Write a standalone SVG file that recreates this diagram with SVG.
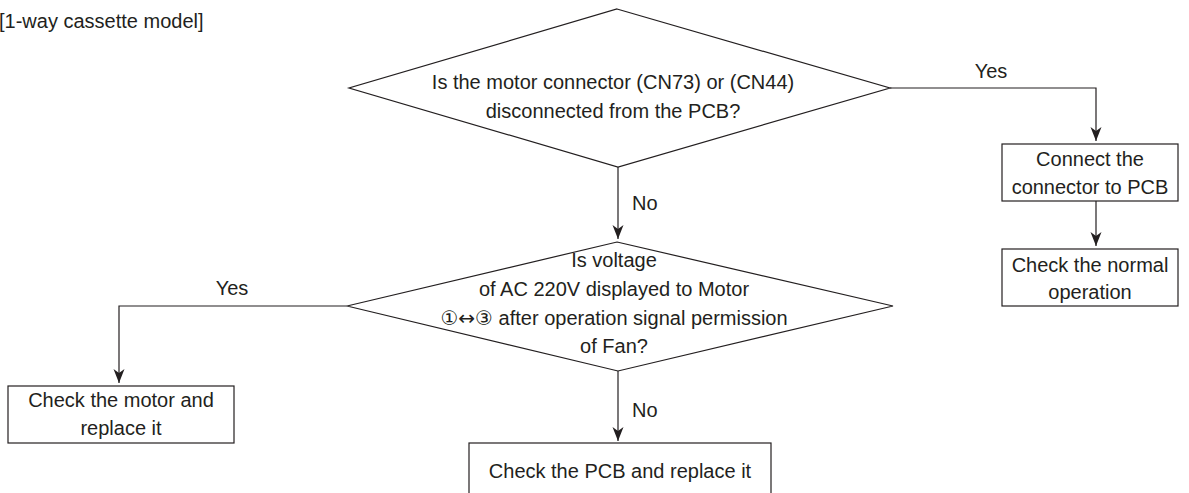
<svg xmlns="http://www.w3.org/2000/svg" width="1189" height="493" viewBox="0 0 1189 493">
<style>
  .t { font-family: "Liberation Sans", "DejaVu Sans", sans-serif; font-size: 20px; fill: #231f20; }
  .m { text-anchor: middle; }
  .sym { font-family: "DejaVu Sans", sans-serif; }
  .shape { fill: #ffffff; stroke: #231f20; stroke-width: 1.2; }
  .conn { fill: none; stroke: #231f20; stroke-width: 1.2; }
</style>
<defs>
  <marker id="arr" markerUnits="userSpaceOnUse" markerWidth="15" markerHeight="12" refX="14" refY="5.5" orient="auto">
    <path d="M0,0 L14,5.5 L0,11 L4,5.5 Z" fill="#231f20"/>
  </marker>
</defs>
<rect width="1189" height="493" fill="#ffffff"/>
<text class="t" x="-1" y="28">[1-way cassette model]</text>

<g id="connectors">
  <path class="conn" d="M890,88 H1096 V141" marker-end="url(#arr)"/>
  <path class="conn" d="M1096,201 V246" marker-end="url(#arr)"/>
  <path class="conn" d="M618,167 V239" marker-end="url(#arr)"/>
  <path class="conn" d="M347,306 H119 V383" marker-end="url(#arr)"/>
  <path class="conn" d="M618,371 V441" marker-end="url(#arr)"/>
  <text class="t m" x="991" y="78">Yes</text>
  <text class="t" x="632" y="210">No</text>
  <text class="t m" x="232" y="295">Yes</text>
  <text class="t" x="632" y="417">No</text>
</g>

<g id="q1">
  <polygon class="shape" points="617,9 890,88 618,167 349,88"/>
  <text class="t m" x="613" y="89">Is the motor connector (CN73) or (CN44)</text>
  <text class="t m" x="613" y="118">disconnected from the PCB?</text>
</g>

<g id="connect">
  <rect class="shape" x="1002" y="144" width="176" height="57"/>
  <text class="t m" x="1090" y="166">Connect the</text>
  <text class="t m" x="1090" y="194">connector to PCB</text>
</g>

<g id="normal">
  <rect class="shape" x="1002" y="249" width="176" height="57"/>
  <text class="t m" x="1090" y="272">Check the normal</text>
  <text class="t m" x="1090" y="299">operation</text>
</g>

<g id="q2">
  <polygon class="shape" points="617,242 893,306 618,371 347,306"/>
  <text class="t m" x="614" y="267">Is voltage</text>
  <text class="t m" x="614" y="296">of AC 220V displayed to Motor</text>
  <text class="t m" x="614" y="325"><tspan class="sym">①↔③</tspan> after operation signal permission</text>
  <text class="t m" x="614" y="353">of Fan?</text>
</g>

<g id="motor">
  <rect class="shape" x="8" y="386" width="226" height="57"/>
  <text class="t m" x="121" y="407">Check the motor and</text>
  <text class="t m" x="121" y="435">replace it</text>
</g>

<g id="pcb">
  <rect class="shape" x="469" y="443" width="302" height="60"/>
  <text class="t m" x="620" y="478">Check the PCB and replace it</text>
</g>
</svg>
